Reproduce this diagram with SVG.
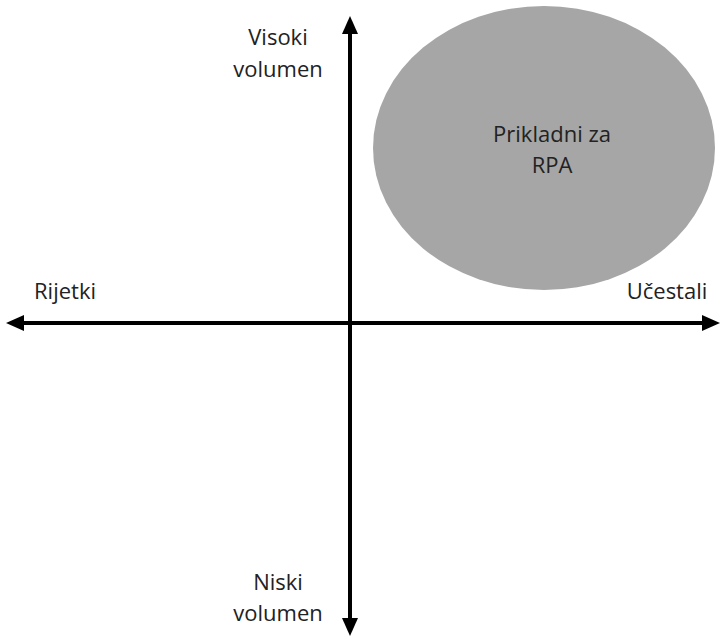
<svg xmlns="http://www.w3.org/2000/svg" width="723" height="642" viewBox="0 0 723 642">
<style>
text{font-family:"Open Sans","Liberation Sans",sans-serif;font-size:22px;fill:#222;text-anchor:middle}
.ax{stroke:#000;stroke-width:4;fill:none}
</style>
<defs>
<marker id="ah" markerWidth="4.5" markerHeight="4" refX="0.5" refY="2" orient="auto" markerUnits="strokeWidth">
<path d="M0,0 L4.5,2 L0,4 Z" fill="#000"/>
</marker>
</defs>
<rect width="723" height="642" fill="#fff"/>
<g id="region">
<ellipse cx="544" cy="148" rx="171" ry="142" fill="#a6a6a6"/>
<text x="552" y="142">Prikladni za</text>
<text x="552" y="173">RPA</text>
</g>
<g id="connectors">
<line class="ax" x1="350" y1="323" x2="350" y2="32" marker-end="url(#ah)"/>
<line class="ax" x1="350" y1="323" x2="350" y2="620" marker-end="url(#ah)"/>
<line class="ax" x1="350" y1="323" x2="22" y2="323" marker-end="url(#ah)"/>
<line class="ax" x1="350" y1="323" x2="704" y2="323" marker-end="url(#ah)"/>
</g>
<g id="top"><text x="278" y="45">Visoki</text><text x="278" y="77">volumen</text></g>
<g id="bottom"><text x="278" y="590">Niski</text><text x="278" y="621">volumen</text></g>
<g id="left"><text x="65" y="299">Rijetki</text></g>
<g id="right"><text x="667" y="299">Učestali</text></g>
</svg>
